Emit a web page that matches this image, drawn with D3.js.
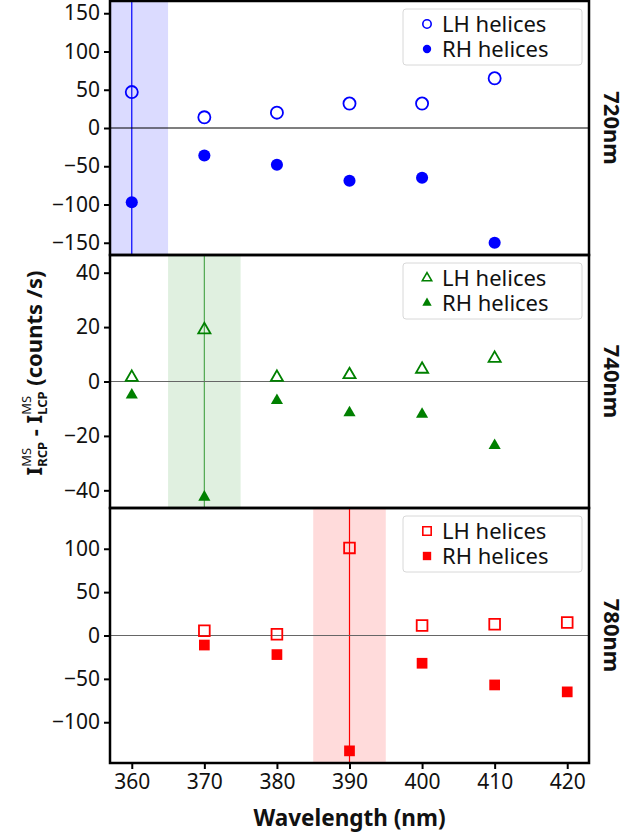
<!DOCTYPE html>
<html>
<head>
<meta charset="utf-8">
<script src="https://cdn.jsdelivr.net/npm/d3@7"></script>
<style>
  body { margin: 0; background: #fff; }
  text { font-family: "Noto Sans", "Open Sans", sans-serif; }
</style>
</head>
<body>
<div id="chart"></div>
<script>
// Chart size
var width = 630;
var height = 839;

// Data
var wl720 = [360, 370, 380, 390, 400, 410];
var lh720 = [47, 14, 20, 32, 32, 65];
var rh720 = [-97, -36, -48, -69, -65, -150];

var wl740 = [360, 370, 380, 390, 400, 410];
var lh740 = [1.5, 19, 1.5, 2.5, 4.5, 8.5];
var rh740 = [-5, -42.5, -7, -11.5, -12, -23.5];

var wl780 = [370, 380, 390, 400, 410, 420];
var lh780 = [5.5, 1.5, 101, 11.5, 13, 15];
var rh780 = [-11, -22, -133, -32, -57, -65];

var xTicks = [360, 370, 380, 390, 400, 410, 420];
var seriesNames = ["LH helices", "RH helices"];

// One entry per panel
var panels = [
  { name: "720nm", wl: wl720, lh: lh720, rh: rh720, domain: [-166, 166], ticks: [-150, -100, -50, 0, 50, 100, 150],
    band: 360, color: "#0000ff", bandFill: "rgba(0,0,255,0.14)", shape: d3.symbolCircle, size: 115, lsize: 55, zero: "#000" },
  { name: "740nm", wl: wl740, lh: lh740, rh: rh740, domain: [-46.5, 46.5], ticks: [-40, -20, 0, 20, 40],
    band: 370, color: "#008000", bandFill: "rgba(0,128,0,0.12)", shape: d3.symbolTriangle, size: 64, lsize: 38, zero: "#666" },
  { name: "780nm", wl: wl780, lh: lh780, rh: rh780, domain: [-147, 147], ticks: [-100, -50, 0, 50, 100],
    band: 390, color: "#ff0000", bandFill: "rgba(255,0,0,0.14)", shape: d3.symbolSquare, size: 115, lsize: 70, zero: "#666" }
];

var left = 110, right = 589;
var tops = [1, 255, 508, 763];

var x = d3.scaleLinear().domain([357, 423]).range([left, right]);

var svg = d3.select("#chart").append("svg")
    .attr("width", width)
    .attr("height", height);

var defs = svg.append("defs");

panels.forEach(function (p, i) {
  var y0 = tops[i], y1 = tops[i + 1];
  var y = d3.scaleLinear().domain(p.domain).range([y1, y0]);
  var g = svg.append("g");

  defs.append("clipPath").attr("id", "clip" + i)
    .append("rect").attr("x", left).attr("y", y0).attr("width", right - left).attr("height", y1 - y0);

  var inner = g.append("g").attr("clip-path", "url(#clip" + i + ")");

  // shaded band and vertical marker line
  inner.append("rect")
    .attr("x", x(p.band - 5)).attr("y", y0)
    .attr("width", x(p.band + 5) - x(p.band - 5)).attr("height", y1 - y0)
    .attr("fill", p.bandFill);
  inner.append("line")
    .attr("x1", x(p.band)).attr("x2", x(p.band))
    .attr("y1", y0).attr("y2", y1)
    .attr("stroke", p.color).attr("stroke-opacity", i === 1 ? 0.65 : 1).attr("stroke-width", 1.2);

  // zero line
  inner.append("line")
    .attr("x1", left).attr("x2", right)
    .attr("y1", y(0)).attr("y2", y(0))
    .attr("stroke", p.zero).attr("stroke-width", 1.2);

  // points
  var sym = d3.symbol().type(p.shape).size(p.size);
  inner.selectAll(".lh").data(p.wl).enter().append("path")
    .attr("d", sym)
    .attr("transform", function (d, k) { return "translate(" + x(d) + "," + y(p.lh[k]) + ")"; })
    .attr("fill", "none").attr("stroke", p.color).attr("stroke-width", 1.8);
  inner.selectAll(".rh").data(p.wl).enter().append("path")
    .attr("d", sym)
    .attr("transform", function (d, k) { return "translate(" + x(d) + "," + y(p.rh[k]) + ")"; })
    .attr("fill", p.color);

  // y axis
  var ya = g.append("g")
    .attr("transform", "translate(" + left + ",0)")
    .call(d3.axisLeft(y).tickValues(p.ticks).tickSize(6).tickPadding(4));
  ya.select(".domain").remove();
  ya.selectAll("line").attr("stroke", "#000").attr("stroke-width", 2);
  ya.selectAll("text").attr("font-size", "21px").attr("fill", "#111")
    .style("font-family", "'Noto Sans', sans-serif");

  // frame
  g.append("rect")
    .attr("x", left).attr("y", y0)
    .attr("width", right - left).attr("height", y1 - y0)
    .attr("fill", "none").attr("stroke", "#000").attr("stroke-width", 2.5);

  // legend
  var lg = g.append("g").attr("transform", "translate(0," + (y0 + 8) + ")");
  lg.append("rect")
    .attr("x", 403).attr("y", 0).attr("width", 179).attr("height", 56)
    .attr("rx", 3).attr("fill", "#fff").attr("fill-opacity", 0.85)
    .attr("stroke", "#d8d8d8").attr("stroke-width", 1);
  var lsym = d3.symbol().type(p.shape).size(p.lsize);
  var lt = lg.append("text")
    .attr("font-size", "22px").attr("fill", "#111");
  seriesNames.forEach(function (s, k) {
    var ly = 15 + k * 25;
    lg.append("path").attr("d", lsym)
      .attr("transform", "translate(427," + ly + ")")
      .attr("fill", k === 0 ? "none" : p.color)
      .attr("stroke", k === 0 ? p.color : "none")
      .attr("stroke-width", 1.6);
    lt.append("tspan")
      .attr("x", 442).attr("y", ly + 7.5)
      .text(s);
  });

  // right side label
  svg.append("text")
    .attr("transform", "translate(612," + ((y0 + y1) / 2) + ") rotate(90)")
    .attr("text-anchor", "middle")
    .attr("dy", "0.35em")
    .attr("font-size", "22px").attr("font-weight", "bold").attr("fill", "#111")
    .text(p.name);

  // x axis only on the bottom panel
  if (i === panels.length - 1) {
    var xa = g.append("g")
      .attr("transform", "translate(0," + y1 + ")")
      .call(d3.axisBottom(x).tickValues(xTicks).tickSize(6).tickPadding(5).tickFormat(d3.format("d")));
    xa.select(".domain").remove();
    xa.selectAll("line").attr("stroke", "#000").attr("stroke-width", 2);
    xa.selectAll("text").attr("font-size", "21px").attr("fill", "#111")
      .style("font-family", "'Noto Sans', sans-serif");
  }
});

// x axis title
svg.append("text")
  .attr("x", (left + right) / 2).attr("y", 826)
  .attr("text-anchor", "middle")
  .attr("font-size", "22.5px").attr("font-weight", "bold").attr("fill", "#111")
  .text("Wavelength (nm)");

// y axis title, built piece by piece so the sub/superscripts stack
var yl = svg.append("g").attr("transform", "translate(42,373) rotate(-90)");
var pos = 0;
function addText(t, size, dy, weight) {
  var el = yl.append("text").attr("x", pos).attr("y", dy)
    .attr("font-size", size + "px").attr("font-weight", weight).attr("fill", "#111")
    .attr("xml:space", "preserve").text(t);
  return el.node().getComputedTextLength();
}
function addStack(sup, sub) {
  var w1 = addText(sup, 13, -11, "normal");
  var w2 = addText(sub, 13, 5, "bold");
  pos += Math.max(w1, w2);
}
pos += addText("I", 22, 0, "bold");
addStack("MS", "RCP");
pos += addText(" - ", 22, 0, "bold");
pos += addText("I", 22, 0, "bold");
addStack("MS", "LCP");
pos += addText(" (counts /s)", 22, 0, "bold");
yl.selectAll("text").attr("transform", "translate(" + (-pos / 2) + ",0)");
</script>
</body>
</html>
